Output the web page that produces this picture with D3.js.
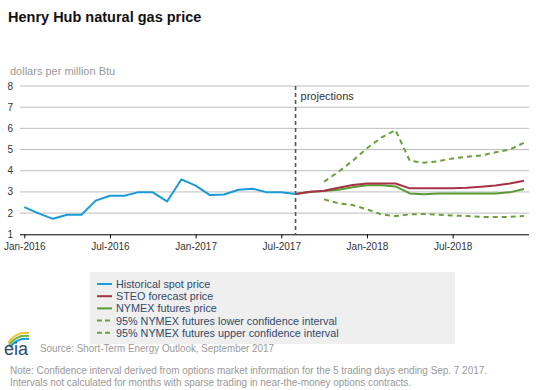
<!DOCTYPE html>
<html><head><meta charset="utf-8">
<script src="https://cdn.jsdelivr.net/npm/d3@7"></script>
<style>body{margin:0;background:#fff;} text{font-family:"Liberation Sans",Arial,sans-serif;}</style>
</head><body><svg id="c" width="538" height="390"></svg>
<script>
// month index 0 = Jan-2016
const histMonths = d3.range(0, 20);
const histValues = [2.28,1.99,1.73,1.92,1.92,2.59,2.82,2.82,2.99,2.98,2.55,3.59,3.30,2.85,2.88,3.10,3.15,2.98,2.98,2.90];
const steoMonths = d3.range(19, 36);
const steoValues = [2.90,3.01,3.06,3.20,3.33,3.40,3.40,3.40,3.17,3.17,3.17,3.17,3.20,3.25,3.30,3.40,3.53];
const nymexMonths = d3.range(19, 36);
const nymexValues = [2.90,3.00,3.04,3.10,3.22,3.31,3.31,3.26,2.93,2.89,2.93,2.93,2.93,2.93,2.93,2.98,3.14];
const ciMonths = d3.range(21, 36);
const upperValues = [3.48,3.95,4.47,5.06,5.56,5.92,4.47,4.38,4.45,4.58,4.66,4.72,4.87,5.00,5.32];
const lowerValues = [2.65,2.46,2.38,2.18,1.94,1.86,1.94,1.96,1.92,1.89,1.86,1.82,1.82,1.82,1.86];
const yTicks = [1,2,3,4,5,6,7,8];
const xTickMonths = [0,6,12,18,24,30];
const xTickLabels = ["Jan-2016","Jul-2016","Jan-2017","Jul-2017","Jan-2018","Jul-2018"];
const projectionMonth = 19;
const legendLabels = ["Historical spot price","STEO forecast price","NYMEX futures price","95% NYMEX futures lower confidence interval","95% NYMEX futures upper confidence interval"];

const C = {blue:"#1a9ad6", red:"#a83245", green:"#5a9a32", dgreen:"#6aa03c"};

const svg = d3.select("#c");
const x = d3.scaleLinear().domain([0,35]).range([24.3,524]);
const y = d3.scaleLinear().domain([1,8]).range([234.3,86]);

svg.append("text").attr("x",8).attr("y",22).attr("font-size",14.5).attr("font-weight","bold").attr("fill","#111").text("Henry Hub natural gas price");
svg.append("text").attr("x",10).attr("y",75).attr("font-size",11).attr("fill","#999").text("dollars per million Btu");

// grid
svg.append("g").selectAll("line").data(yTicks.filter(d=>d>1)).join("line")
  .attr("x1",20).attr("x2",529).attr("y1",d=>y(d)).attr("y2",d=>y(d))
  .attr("stroke","#bdbdbd").attr("stroke-width",1);
svg.append("g").selectAll("text").data(yTicks).join("text")
  .attr("x",13).attr("y",d=>y(d)+3.5).attr("text-anchor","end").attr("font-size",10).attr("fill","#333").text(d=>d);

// x axis
const xAxis = d3.axisBottom(x).tickValues(xTickMonths).tickFormat((d,i)=>xTickLabels[i]).tickSize(4).tickSizeOuter(0);
const gx = svg.append("g").attr("transform",`translate(0,${y(1)})`).call(xAxis);
gx.select(".domain").attr("d",`M20,0.5H529`).attr("stroke","#000");
gx.selectAll(".tick line").attr("stroke","#000");
gx.selectAll(".tick text").attr("font-size",10).attr("fill","#333").attr("font-family","Liberation Sans,Arial,sans-serif").attr("dy","0.9em");

// projection line
svg.append("line").attr("x1",x(projectionMonth)).attr("x2",x(projectionMonth)).attr("y1",86).attr("y2",y(1))
  .attr("stroke","#555").attr("stroke-width",1.6).attr("stroke-dasharray","4,3");
svg.append("text").attr("x",x(projectionMonth)+5).attr("y",100).attr("font-size",11).attr("fill","#333").text("projections");

const line = d3.line().x(d=>x(d[0])).y(d=>y(d[1]));
const zip = (a,b)=>a.map((m,i)=>[m,b[i]]);
function draw(m,v,col,dash){
  svg.append("path").attr("d",line(zip(m,v))).attr("fill","none").attr("stroke",col).attr("stroke-width",2)
    .attr("stroke-dasharray",dash||null).attr("stroke-linejoin","round");
}
draw(ciMonths,upperValues,C.dgreen,"5,4");
draw(ciMonths,lowerValues,C.dgreen,"5,4");
draw(nymexMonths,nymexValues,C.green);
draw(steoMonths,steoValues,C.red);
draw(histMonths,histValues,C.blue);

// legend
svg.append("rect").attr("x",90).attr("y",272).attr("width",365).attr("height",72).attr("fill","#efefef");
const legCols=[C.blue,C.red,C.green,C.dgreen,C.dgreen];
const legDash=[null,null,null,"5,3","5,3"];
legendLabels.forEach((t,i)=>{
  const yy=284+i*12.2;
  svg.append("line").attr("x1",97).attr("x2",112).attr("y1",yy).attr("y2",yy).attr("stroke",legCols[i]).attr("stroke-width",2).attr("stroke-dasharray",legDash[i]);
  svg.append("text").attr("x",116).attr("y",yy+4).attr("font-size",10.8).attr("fill","#2f4a6a").text(t);
});

// eia logo
const lg = svg.append("g");
lg.append("path").attr("d","M8,343 Q16,331 29,333").attr("fill","none").attr("stroke","#f2c12e").attr("stroke-width",2);
lg.append("path").attr("d","M9,345 Q17,334 29,336").attr("fill","none").attr("stroke","#6cb33f").attr("stroke-width",2);
lg.append("path").attr("d","M10,347 Q18,337 29,339").attr("fill","none").attr("stroke","#1a9ad6").attr("stroke-width",2);
lg.append("text").attr("x",4).attr("y",355).attr("font-family","Liberation Serif,serif").attr("font-size",18).attr("fill","#2f4a6a").text("eia");

svg.append("text").attr("x",40).attr("y",352).attr("font-size",10.5).attr("fill","#999")
  .attr("textLength",234).attr("lengthAdjust","spacingAndGlyphs").text("Source: Short-Term Energy Outlook, September 2017");
svg.append("text").attr("x",10).attr("y",374).attr("font-size",10).attr("fill","#999")
  .attr("textLength",477).attr("lengthAdjust","spacing").text("Note: Confidence interval derived from options market information for the 5 trading days ending Sep. 7 2017.");
svg.append("text").attr("x",10).attr("y",386).attr("font-size",10).attr("fill","#999")
  .attr("textLength",401).attr("lengthAdjust","spacing").text("Intervals not calculated for months with sparse trading in near-the-money options contracts.");
</script></body></html>
